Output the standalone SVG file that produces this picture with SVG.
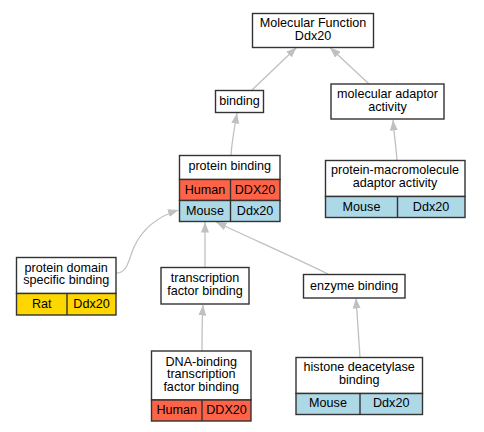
<svg xmlns="http://www.w3.org/2000/svg" width="484" height="432" viewBox="0 0 484 432">
<style>
text{font-family:"Liberation Sans",Arial,sans-serif;font-size:12.6px;fill:#000;text-anchor:middle}
.b{fill:#fff;stroke:#333;stroke-width:1.4}
.hu{fill:#ff6347;stroke:#333;stroke-width:1.4}
.mo{fill:#add8e6;stroke:#333;stroke-width:1.4}
.ra{fill:#ffd700;stroke:#333;stroke-width:1.4}
.d{stroke:#333;stroke-width:1.4}
.e{fill:none;stroke:#c0c0c0;stroke-width:1.3}
</style>
<defs>
<marker id="a" markerWidth="11" markerHeight="8" refX="10.5" refY="4" orient="auto" markerUnits="userSpaceOnUse">
<path d="M0,0 L10.5,4 L0,8 z" fill="#c0c0c0"/>
</marker>
</defs>
<rect width="484" height="432" fill="#fff"/>
<g id="edges">
<path class="e" marker-end="url(#a)" d="M252,90 L296.5,47.5"/>
<path class="e" marker-end="url(#a)" d="M369,84 L330,47.5"/>
<path class="e" marker-end="url(#a)" d="M231,155 C232,140 235,125 237,113"/>
<path class="e" marker-end="url(#a)" d="M397,160 C396,148 394,132 393,120"/>
<path class="e" marker-end="url(#a)" d="M116.5,273 C128,273 129,258 134,247 C141,232 153,218 178.5,210"/>
<path class="e" marker-end="url(#a)" d="M205,267 L205,222"/>
<path class="e" marker-end="url(#a)" d="M328,274 C300,260 250,238 216,222"/>
<path class="e" marker-end="url(#a)" d="M202,351 C202,335 202,320 203,305"/>
<path class="e" marker-end="url(#a)" d="M360,357 C359,340 357,315 356,298"/>
</g>
<g id="mf">
<rect class="b" x="252.5" y="13.5" width="121" height="34"/>
<text x="313" y="27">Molecular Function</text>
<text x="313" y="39.5">Ddx20</text>
</g>
<g id="binding">
<rect class="b" x="215.5" y="90.5" width="48" height="22"/>
<text x="239.5" y="105">binding</text>
</g>
<g id="mol_adaptor">
<rect class="b" x="331" y="84" width="113" height="35"/>
<text x="387.5" y="98">molecular adaptor</text>
<text x="387.5" y="111">activity</text>
</g>
<g id="protein_binding">
<rect class="b" x="179.5" y="155.5" width="100.5" height="24"/>
<rect class="hu" x="179.5" y="179.5" width="100.5" height="21"/>
<rect class="mo" x="179.5" y="200.5" width="100.5" height="21"/>
<line class="d" x1="230.5" y1="179.5" x2="230.5" y2="221.5"/>
<text x="229.7" y="170">protein binding</text>
<text x="205" y="193.5">Human</text>
<text x="255" y="193.5">DDX20</text>
<text x="205" y="214.5">Mouse</text>
<text x="255" y="214.5">Ddx20</text>
</g>
<g id="pm_adaptor">
<rect class="b" x="325.5" y="160.5" width="139.5" height="36"/>
<rect class="mo" x="325.5" y="196.5" width="139.5" height="21"/>
<line class="d" x1="397.5" y1="196.5" x2="397.5" y2="217.5"/>
<text x="395" y="174">protein-macromolecule</text>
<text x="395" y="186.5">adaptor activity</text>
<text x="361.5" y="210.5">Mouse</text>
<text x="431" y="210.5">Ddx20</text>
</g>
<g id="pd_binding">
<rect class="b" x="16.5" y="257.5" width="99.5" height="36"/>
<rect class="ra" x="16.5" y="293.5" width="99.5" height="21.5"/>
<line class="d" x1="67" y1="293.5" x2="67" y2="315"/>
<text x="66.2" y="271.5">protein domain</text>
<text x="66.2" y="284">specific binding</text>
<text x="41.7" y="307.5">Rat</text>
<text x="91.5" y="307.5">Ddx20</text>
</g>
<g id="tf_binding">
<rect class="b" x="161" y="267.5" width="88" height="36.5"/>
<text x="205" y="282">transcription</text>
<text x="205" y="295">factor binding</text>
</g>
<g id="enzyme_binding">
<rect class="b" x="303.5" y="274.5" width="101.5" height="23.5"/>
<text x="354.2" y="290">enzyme binding</text>
</g>
<g id="dna_binding">
<rect class="b" x="151.5" y="351" width="99.5" height="49"/>
<rect class="hu" x="151.5" y="400" width="99.5" height="21"/>
<line class="d" x1="202" y1="400" x2="202" y2="421"/>
<text x="201.2" y="365.5">DNA-binding</text>
<text x="201.2" y="378">transcription</text>
<text x="201.2" y="390.5">factor binding</text>
<text x="176.7" y="414">Human</text>
<text x="226.5" y="414">DDX20</text>
</g>
<g id="histone">
<rect class="b" x="296" y="357.5" width="126.5" height="36"/>
<rect class="mo" x="296" y="393.5" width="126.5" height="21"/>
<line class="d" x1="360" y1="393.5" x2="360" y2="414.5"/>
<text x="359.2" y="371">histone deacetylase</text>
<text x="359.2" y="383.5">binding</text>
<text x="328" y="407">Mouse</text>
<text x="391.2" y="407">Ddx20</text>
</g>
</svg>
